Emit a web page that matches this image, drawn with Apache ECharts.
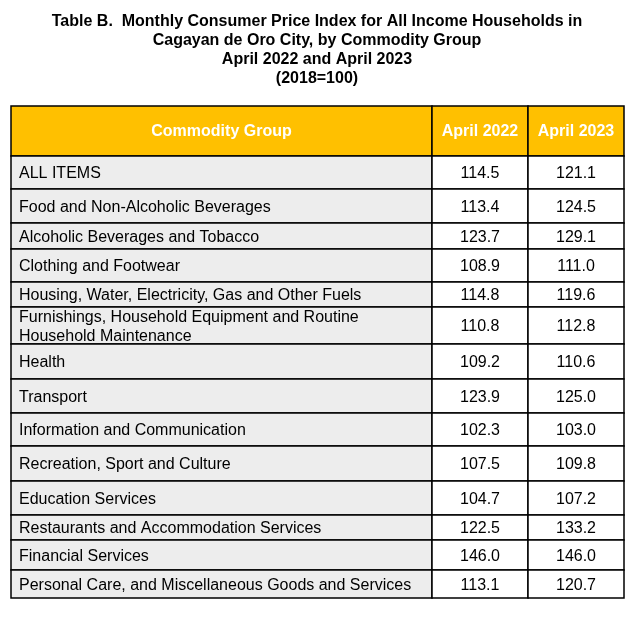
<!DOCTYPE html>
<html>
<head>
<meta charset="utf-8">
<script src="https://cdn.jsdelivr.net/npm/echarts@6/dist/echarts.min.js"></script>
<style>
html, body { margin: 0; padding: 0; background: #ffffff; }
#chart { width: 634px; height: 623px; }
</style>
</head>
<body>
<div id="chart"></div>
<script>
// ---------- data ----------
const titleLines = [
  'Table B.  Monthly Consumer Price Index for All Income Households in',
  'Cagayan de Oro City, by Commodity Group',
  'April 2022 and April 2023',
  '(2018=100)'
];
const headers = ['Commodity Group', 'April 2022', 'April 2023'];
const commodityGroups = [
  'ALL ITEMS',
  'Food and Non-Alcoholic Beverages',
  'Alcoholic Beverages and Tobacco',
  'Clothing and Footwear',
  'Housing, Water, Electricity, Gas and Other Fuels',
  'Furnishings, Household Equipment and Routine Household Maintenance',
  'Health',
  'Transport',
  'Information and Communication',
  'Recreation, Sport and Culture',
  'Education Services',
  'Restaurants and Accommodation Services',
  'Financial Services',
  'Personal Care, and Miscellaneous Goods and Services'
];
const april2022 = [114.5, 113.4, 123.7, 108.9, 114.8, 110.8, 109.2, 123.9, 102.3, 107.5, 104.7, 122.5, 146.0, 113.1];
const april2023 = [121.1, 124.5, 129.1, 111.0, 119.6, 112.8, 110.6, 125.0, 103.0, 109.8, 107.2, 133.2, 146.0, 120.7];

// ---------- layout (table geometry, in axis units) ----------
const colWidths = [421, 96, 96];
const headerHeight = 50;
const rowHeights = [33, 34, 26, 33, 25, 37, 35, 34, 33, 35, 34, 25, 30, 28];

const FONT = '"Liberation Sans", Arial, Helvetica, sans-serif';
const HEADER_FILL = '#FFC000';
const LABEL_FILL = '#EDEDED';
const VALUE_FILL = '#FFFFFF';

const colEdges = [0];
colWidths.forEach(w => colEdges.push(colEdges[colEdges.length - 1] + w));
const rowEdges = [0, headerHeight];
rowHeights.forEach(h => rowEdges.push(rowEdges[rowEdges.length - 1] + h));
const totalW = colEdges[colEdges.length - 1];
const totalH = rowEdges[rowEdges.length - 1];

// rows: 0 = header, 1..n = body
const cells = [];
const cellText = [];
for (let r = 0; r < rowEdges.length - 1; r++) {
  for (let c = 0; c < colWidths.length; c++) {
    let txt;
    if (r === 0) txt = headers[c];
    else if (c === 0) txt = commodityGroups[r - 1];
    else if (c === 1) txt = april2022[r - 1].toFixed(1);
    else txt = april2023[r - 1].toFixed(1);
    cellText.push(txt);
    cells.push([colEdges[c], colEdges[c + 1], rowEdges[r], rowEdges[r + 1], r, c]);
  }
}

const chart = echarts.init(document.getElementById('chart'), null, { renderer: 'canvas' });

chart.setOption({
  animation: false,
  backgroundColor: '#ffffff',
  title: {
    text: titleLines.join('\n'),
    left: 'center',
    top: 12,
    padding: 0,
    textStyle: {
      fontFamily: FONT,
      fontSize: 16,
      fontWeight: 'bold',
      color: '#000000',
      lineHeight: 19
    }
  },
  grid: { left: 11, top: 106, width: 613, height: 492, containLabel: false },
  xAxis: { type: 'value', min: 0, max: totalW, show: false },
  yAxis: { type: 'value', min: 0, max: totalH, inverse: true, show: false },
  series: [{
    type: 'custom',
    clip: false,
    silent: true,
    encode: { x: [0, 1], y: [2, 3] },
    data: cells,
    renderItem: function (params, api) {
      const x0 = api.value(0), x1 = api.value(1);
      const y0 = api.value(2), y1 = api.value(3);
      const r = api.value(4), c = api.value(5);
      const p0 = api.coord([x0, y0]);
      const p1 = api.coord([x1, y1]);
      const w = p1[0] - p0[0];
      const h = p1[1] - p0[1];
      const isHeader = r === 0;
      const fill = isHeader ? HEADER_FILL : (c === 0 ? LABEL_FILL : VALUE_FILL);
      const txt = cellText[params.dataIndex];
      const leftAligned = !isHeader && c === 0;
      return {
        type: 'group',
        children: [
          {
            type: 'rect',
            shape: { x: p0[0], y: p0[1], width: w, height: h },
            style: { fill: fill, stroke: '#000000', lineWidth: 1.5 }
          },
          {
            type: 'text',
            style: {
              text: txt,
              x: leftAligned ? p0[0] + 8 : p0[0] + w / 2,
              y: p0[1] + h / 2 + (isHeader ? 0.5 : 1.5),
              align: leftAligned ? 'left' : 'center',
              verticalAlign: 'middle',
              width: leftAligned ? w - 16 : undefined,
              overflow: leftAligned ? 'break' : 'none',
              lineHeight: 19,
              fontFamily: FONT,
              fontSize: 16,
              fontWeight: isHeader ? 'bold' : 'normal',
              fill: isHeader ? '#FFFFFF' : '#000000'
            }
          }
        ]
      };
    }
  }]
});
</script>
</body>
</html>
